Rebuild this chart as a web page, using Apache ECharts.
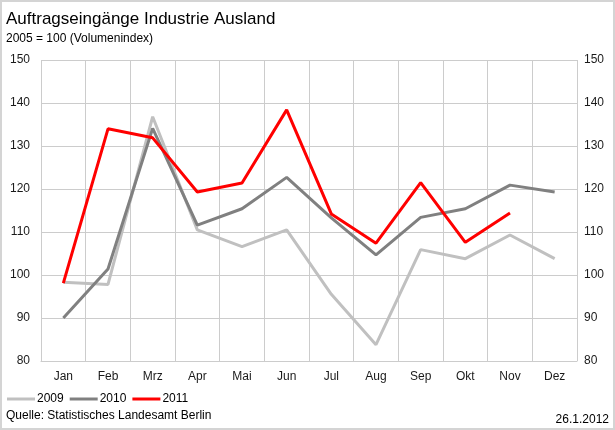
<!DOCTYPE html>
<html>
<head>
    <meta charset="utf-8">
    <title>Auftragseingänge Industrie Ausland</title>
    <script src="https://cdn.jsdelivr.net/npm/echarts@6/dist/echarts.min.js"></script>
    <style>
        html, body { margin: 0; padding: 0; background: #fff; }
        #main { width: 615px; height: 430px; box-sizing: border-box; border: 2px solid #d4d4d4; }
    </style>
</head>
<body>
<div id="main"></div>
<script type="text/javascript">
    // Monate
    var months = ['Jan', 'Feb', 'Mrz', 'Apr', 'Mai', 'Jun', 'Jul', 'Aug', 'Sep', 'Okt', 'Nov', 'Dez'];
    // Volumenindex 2005 = 100
    var y2009 = [98.3, 97.8, 136.8, 110.5, 106.6, 110.5, 95.5, 83.8, 105.9, 103.8, 109.3, 103.8];
    var y2010 = [90.0, 101.4, 134.1, 111.6, 115.4, 122.7, 113.3, 104.7, 113.4, 115.4, 120.9, 119.3];
    var y2011 = [98.1, 134.0, 131.9, 119.3, 121.4, 138.4, 114.2, 107.4, 121.5, 107.6, 114.4, null];
    var yTicks = { min: 80, max: 150, step: 10 };

    var chart = echarts.init(document.getElementById('main'));
    var font = '"Liberation Sans", Arial, sans-serif';

    function valueAxis(pos) {
        return {
            type: 'value',
            position: pos,
            min: yTicks.min, max: yTicks.max, interval: yTicks.step,
            axisLine: {show: false},
            axisTick: {show: false},
            splitLine: {show: pos === 'left', lineStyle: {color: '#cccccc', width: 1}},
            axisLabel: {color: '#1a1a1a', fontSize: 12, fontFamily: font, margin: pos === 'left' ? 11 : 7}
        };
    }

    function lineSeries(name, data, color) {
        return {
            name: name,
            type: 'line',
            data: data,
            symbol: 'none',
            z: name === '2011' ? 4 : 3,
            lineStyle: {color: color, width: 3},
            itemStyle: {color: color}
        };
    }

    var plain = {fontSize: 12, fontWeight: 'normal', color: '#000', fontFamily: font};

    var option = {
        animation: false,
        textStyle: {fontFamily: font},
        title: [{
            text: 'Auftragseingänge Industrie Ausland',
            left: 4, top: 9, padding: 0,
            textStyle: {fontSize: 17, fontWeight: 'normal', color: '#000', fontFamily: font}
        }, {
            text: '2005 = 100 (Volumenindex)',
            left: 4, top: 31, padding: 0,
            textStyle: plain
        }, {
            text: 'Quelle: Statistisches Landesamt Berlin',
            left: 4, top: 408, padding: 0,
            textStyle: plain
        }, {
            text: '26.1.2012',
            right: 4, top: 412, padding: 0,
            textStyle: plain
        }],
        legend: {
            left: 5, top: 391, padding: 0,
            icon: 'rect',
            itemWidth: 28, itemHeight: 3, itemGap: 6,
            textStyle: {fontSize: 12, color: '#000', fontFamily: font, padding: [0, 0, 0, -3]},
            data: ['2009', '2010', '2011']
        },
        grid: {left: 39, right: 36, top: 58, bottom: 67},
        xAxis: {
            type: 'category',
            data: months,
            boundaryGap: true,
            axisTick: {show: false},
            axisLine: {lineStyle: {color: '#cccccc', width: 1}},
            splitLine: {show: true, interval: 0, lineStyle: {color: '#cccccc', width: 1}},
            axisLabel: {color: '#1a1a1a', fontSize: 12, fontFamily: font, margin: 10, interval: 0}
        },
        yAxis: [valueAxis('left'), valueAxis('right')],
        series: [
            lineSeries('2009', y2009, '#c0c0c0'),
            lineSeries('2010', y2010, '#808080'),
            lineSeries('2011', y2011, '#ff0000')
        ]
    };

    chart.setOption(option);
</script>
</body>
</html>
